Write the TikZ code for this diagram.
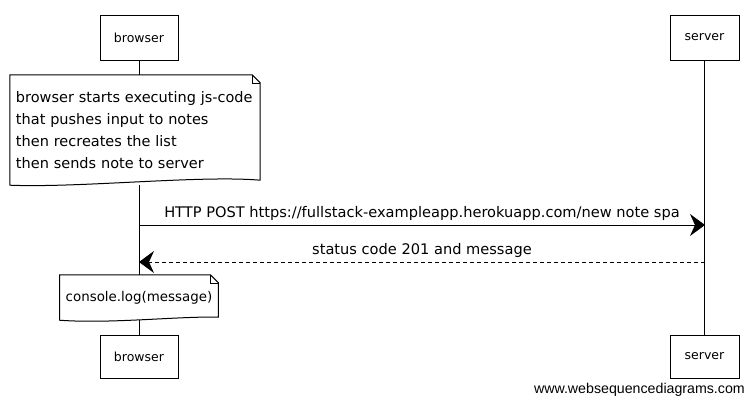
\documentclass[tikz,border=0pt]{standalone}
\usepackage{fontspec}
\setmainfont{DejaVu Sans}
\newfontfamily\wsdfont{Liberation Sans}
\usetikzlibrary{arrows.meta}
\tikzset{
  actor/.style={draw, line width=1pt, fill=white, minimum width=78pt, minimum height=45pt},
  notebox/.style={fill=white, inner xsep=6pt, align=left, font=\fontsize{14.5}{22}\selectfont},
  msg/.style={line width=1pt, -{Stealth[length=15pt, width=22pt, inset=5pt]}},
  reply/.style={msg, dash pattern=on 4pt off 3pt},
  msglabel/.style={above=1pt, font=\fontsize{14.6}{16}\selectfont}
}
\begin{document}
\begin{tikzpicture}[x=1pt, y=-1pt, every node/.style={font=\fontsize{12.5}{22}\selectfont}]
  \useasboundingbox (0,0) rectangle (753,405);
  % participants
  \node[actor] (bt) at (139,37.5) {browser};
  \node[actor, minimum width=69pt] (st) at (704.5,37.5) {server};
  \node[actor, minimum height=43pt] (bb) at (139,356.5) {browser};
  \node[actor, minimum width=69pt, minimum height=43pt] (sb) at (704.5,356.5) {server};
  \draw[line width=0.8pt] (bt.south) -- (bb.north);
  \draw[line width=0.8pt] (st.south) -- (sb.north);
  % first note
  \node[notebox, text width=238pt, minimum height=110pt] (n1) at (135,130)
    {browser starts executing js-code\\that pushes input to notes\\then recreates the list\\then sends note to server};
  \draw[line width=1pt] (n1.north west) -- ([xshift=-8pt]n1.north east) -- ([yshift=-8pt]n1.north east)
    -- ([yshift=5pt]n1.south east) .. controls (200,175) and (80,188) .. (n1.south west) -- cycle;
  \draw[line width=0.6pt] ([xshift=-8pt]n1.north east) -- ([xshift=-8pt, yshift=-8pt]n1.north east)
    -- ([yshift=-8pt]n1.north east);
  % messages
  \coordinate (m1b) at (139,225); \coordinate (m1s) at (705,225);
  \coordinate (m2b) at (139,262); \coordinate (m2s) at (705,262);
  \draw[msg] (m1b) -- node[msglabel] {HTTP POST https://fullstack-exampleapp.herokuapp.com/new note spa} (m1s);
  \draw[reply] (m2s) -- node[msglabel] {status code 201 and message} (m2b);
  % second note
  \node[notebox, minimum width=158pt, minimum height=45pt, align=center, font=\fontsize{13.4}{16}\selectfont] (n2) at (139,297.5) {console.log(message)};
  \draw[line width=1pt] (n2.north west) -- ([xshift=-8pt]n2.north east) -- ([yshift=-8pt]n2.north east)
    -- ([yshift=3pt]n2.south east) .. controls (180,316) and (110,324) .. (n2.south west) -- cycle;
  \draw[line width=0.6pt] ([xshift=-8pt]n2.north east) -- ([xshift=-8pt, yshift=-8pt]n2.north east)
    -- ([yshift=-8pt]n2.north east);
  % watermark
  \node[anchor=east, inner sep=0pt, font=\wsdfont\fontsize{14.2}{16}\selectfont] (wm) at (745,390) {www.websequencediagrams.com};
\end{tikzpicture}
\end{document}
